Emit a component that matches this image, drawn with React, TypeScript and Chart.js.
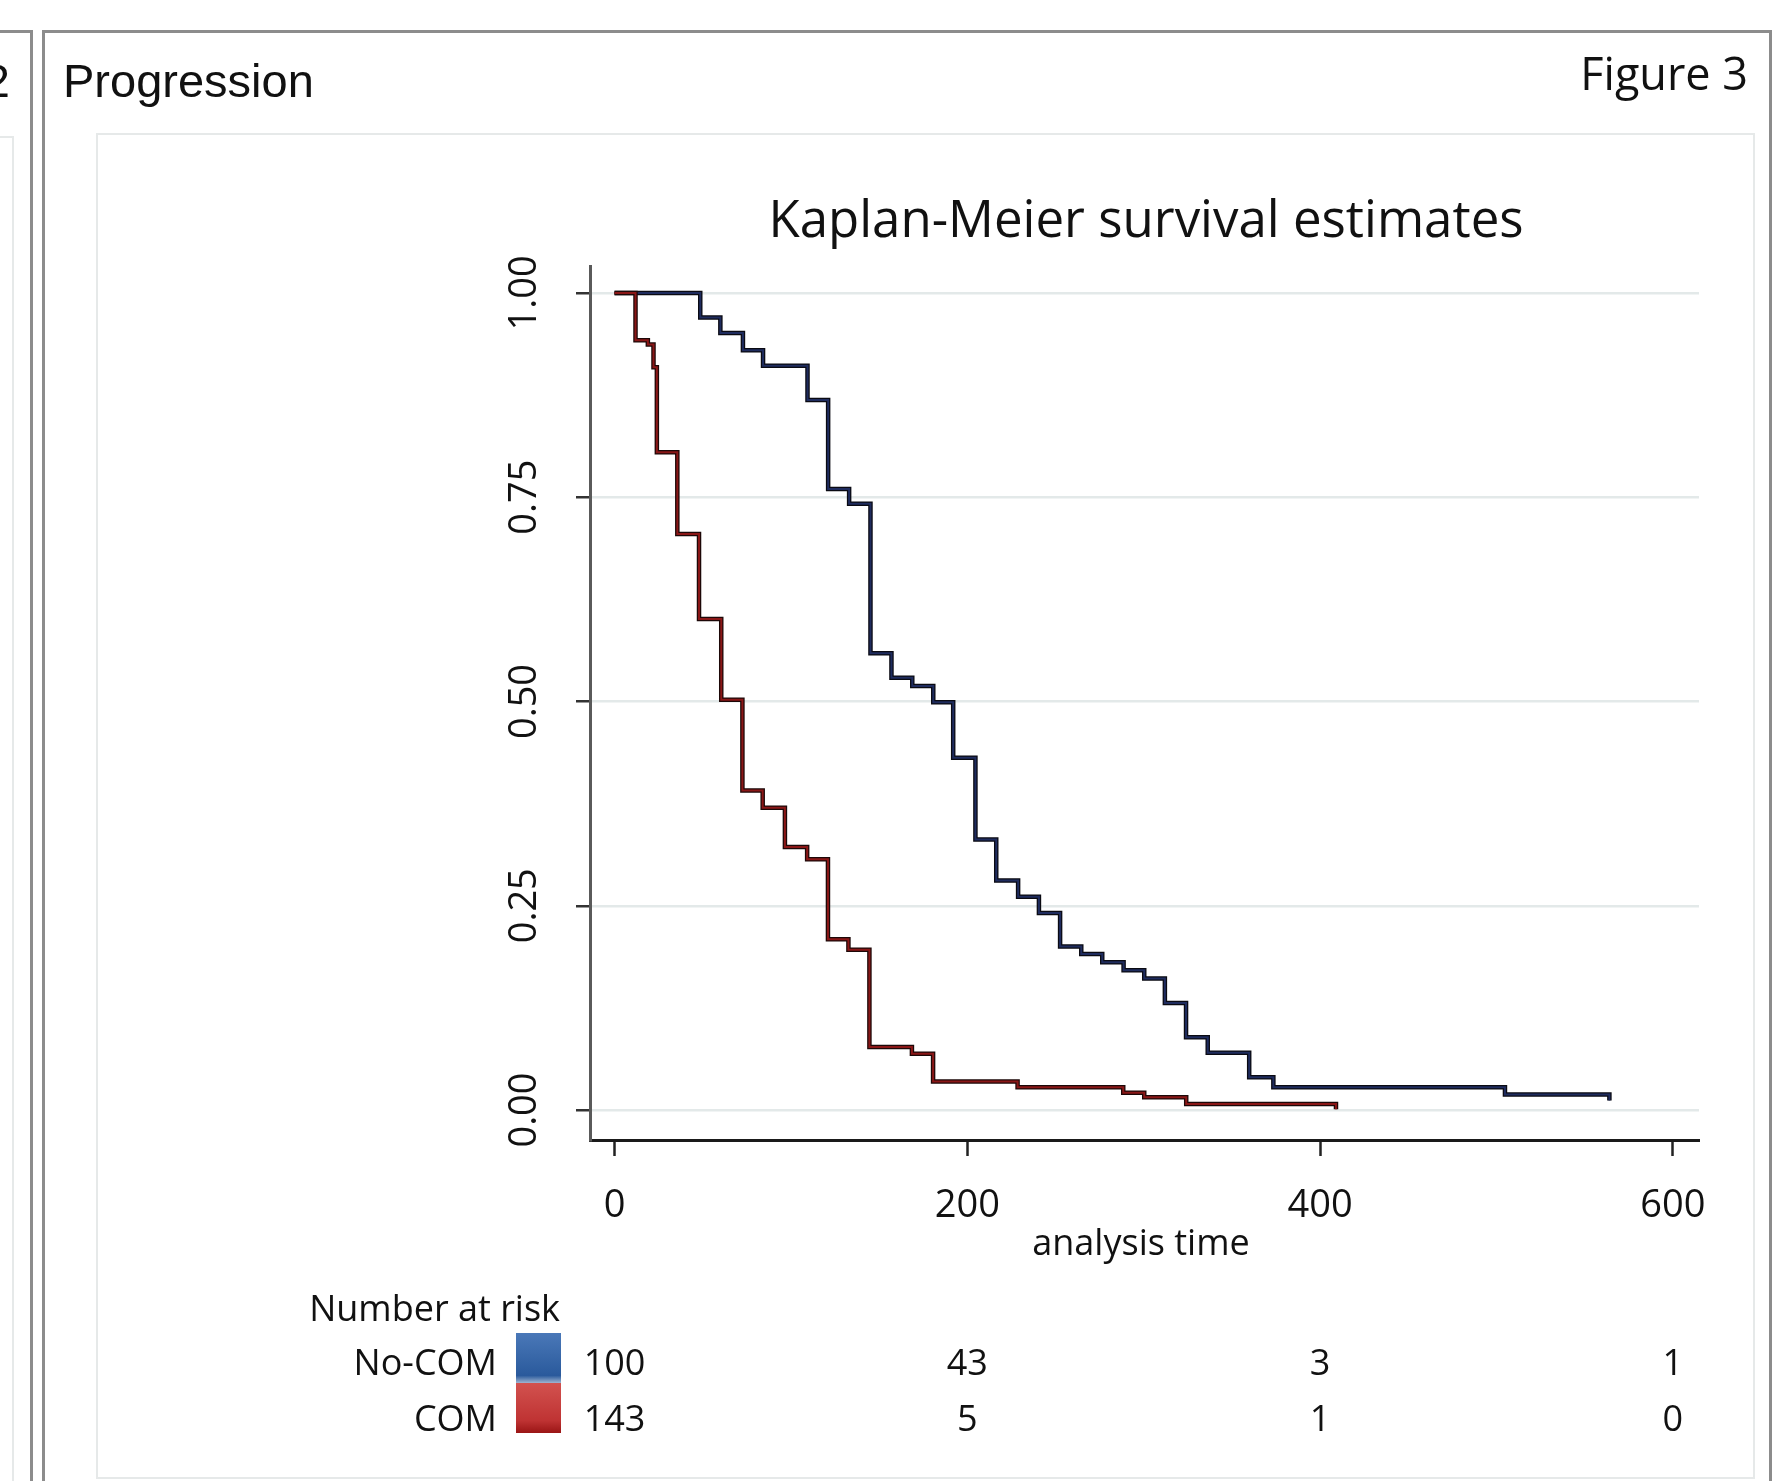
import React, { useEffect, useRef } from "react";
import { Chart, registerables } from "chart.js";

Chart.register(...registerables);

// ---- Data ----
const noComTimes = [0, 48.6, 60, 72.8, 84.2, 109.4, 121.1, 133, 145.1, 157, 168.8, 180.7, 192, 204.6, 216.4, 228.8, 240.6, 252.6, 264.6, 276.5, 288.6, 300.3, 312, 324, 336.3, 359.8, 373.5, 504.8, 564, 564];
const noComSurv = [1, 0.97, 0.951, 0.93, 0.911, 0.869, 0.76, 0.742, 0.559, 0.529, 0.519, 0.499, 0.431, 0.331, 0.281, 0.261, 0.241, 0.2, 0.191, 0.181, 0.171, 0.161, 0.131, 0.089, 0.07, 0.04, 0.028, 0.019, 0.019, 0.0115];

const comTimes = [0, 11.9, 18.9, 22.1, 24, 35.6, 47.9, 60.5, 72.5, 84, 96.6, 109.2, 121, 132.6, 144.5, 168.6, 180.6, 228.5, 288.4, 300.3, 324.1, 409, 409];
const comSurv = [1, 0.942, 0.937, 0.909, 0.805, 0.705, 0.601, 0.502, 0.391, 0.37, 0.322, 0.307, 0.209, 0.196, 0.077, 0.069, 0.035, 0.028, 0.021, 0.0156, 0.0074, 0.0074, 0.001];

const xTickValues = [0, 200, 400, 600];
const yTickValues = [0, 0.25, 0.5, 0.75, 1];
const yTickLabels = ["0.00", "0.25", "0.50", "0.75", "1.00"];

const riskGroups = ["No-COM", "COM"];
const noComAtRisk = [100, 43, 3, 1];
const comAtRisk = [143, 5, 1, 0];

const chartTitle = "Kaplan-Meier survival estimates";
const xAxisTitle = "analysis time";
const panelTitle = "Progression";
const figureLabel = "Figure 3";

const OPEN = '"Open Sans", "Noto Sans", sans-serif';

const toPoints = (ts: number[], ss: number[]) => ts.map((t, i) => ({ x: t, y: ss[i] }));

const framePlugin = {
  id: "frame",
  beforeDraw(chart: any) {
    const ctx = chart.ctx as CanvasRenderingContext2D;
    ctx.save();
    ctx.fillStyle = "#ffffff";
    ctx.fillRect(0, 0, chart.width, chart.height);
    // panel borders
    ctx.strokeStyle = "#8c8c8c";
    ctx.lineWidth = 3;
    ctx.beginPath();
    ctx.moveTo(0, 31.5);
    ctx.lineTo(31.5, 31.5);
    ctx.lineTo(31.5, 1481);
    ctx.stroke();
    ctx.beginPath();
    ctx.moveTo(43.5, 1481);
    ctx.lineTo(43.5, 31.5);
    ctx.lineTo(1770.5, 31.5);
    ctx.lineTo(1770.5, 1481);
    ctx.stroke();
    // light inner boxes
    ctx.strokeStyle = "#e6e9e9";
    ctx.lineWidth = 2;
    ctx.beginPath();
    ctx.moveTo(0, 137);
    ctx.lineTo(13, 137);
    ctx.lineTo(13, 1481);
    ctx.stroke();
    ctx.strokeRect(97, 134, 1657, 1344);
    ctx.restore();
  },
  afterDraw(chart: any) {
    const ctx = chart.ctx as CanvasRenderingContext2D;
    const xs = chart.scales.x;
    const ys = chart.scales.y;
    ctx.save();
    ctx.fillStyle = "#111111";
    ctx.textBaseline = "alphabetic";

    // panel header
    ctx.font = '47px "Liberation Sans", Arial, sans-serif';
    ctx.textAlign = "left";
    ctx.fillText(panelTitle, 63, 97);
    ctx.textAlign = "right";
    ctx.fillText("2", 10, 97);
    ctx.font = `45px ${OPEN}`;
    ctx.fillText(figureLabel, 1748, 90);

    // chart title
    ctx.font = `51px ${OPEN}`;
    ctx.textAlign = "center";
    ctx.fillText(chartTitle, 1146, 237);

    // y tick labels (rotated)
    ctx.font = `38px ${OPEN}`;
    yTickValues.forEach((v, i) => {
      const py = ys.getPixelForValue(v);
      ctx.save();
      ctx.translate(536, py);
      ctx.rotate(-Math.PI / 2);
      ctx.textAlign = "center";
      ctx.fillText(yTickLabels[i], 0, 0);
      ctx.restore();
    });

    // x tick labels
    ctx.font = `38px ${OPEN}`;
    ctx.textAlign = "center";
    xTickValues.forEach((v) => {
      ctx.fillText(String(v), xs.getPixelForValue(v), 1217);
    });

    // x axis title
    ctx.font = `36px ${OPEN}`;
    ctx.fillText(xAxisTitle, 1141, 1255);

    // number at risk table
    ctx.font = `36px ${OPEN}`;
    ctx.textAlign = "right";
    ctx.fillText("Number at risk", 560, 1321);
    const rowBase = [1375, 1431];
    riskGroups.forEach((g, i) => ctx.fillText(g, 497, rowBase[i]));

    // swatches
    const gb = ctx.createLinearGradient(0, 1333, 0, 1383);
    gb.addColorStop(0, "#4a78b8");
    gb.addColorStop(0.85, "#2a5a9c");
    gb.addColorStop(1, "#9fb4d0");
    ctx.fillStyle = gb;
    ctx.fillRect(516, 1333, 45, 50);
    const gr = ctx.createLinearGradient(0, 1383, 0, 1433);
    gr.addColorStop(0, "#d2524f");
    gr.addColorStop(0.75, "#bf3333");
    gr.addColorStop(1, "#9a1515");
    ctx.fillStyle = gr;
    ctx.fillRect(516, 1383, 45, 50);

    ctx.fillStyle = "#111111";
    ctx.textAlign = "center";
    xTickValues.forEach((v, i) => {
      const px = xs.getPixelForValue(v);
      ctx.fillText(String(noComAtRisk[i]), px, rowBase[0]);
      ctx.fillText(String(comAtRisk[i]), px, rowBase[1]);
    });
    ctx.restore();
  },
};

export default function App() {
  const ref = useRef<HTMLCanvasElement | null>(null);
  useEffect(() => {
    if (!ref.current) return;
    const common = { stepped: "before" as const, pointRadius: 0, fill: false, tension: 0 };
    const chart = new Chart(ref.current, {
      type: "line",
      data: {
        datasets: [
          { ...common, label: "COM", data: toPoints(comTimes, comSurv), borderColor: "#8a1717", borderWidth: 2 },
          { ...common, label: "COM edge", data: toPoints(comTimes, comSurv), borderColor: "#1c0808", borderWidth: 4.5 },
          { ...common, label: "No-COM", data: toPoints(noComTimes, noComSurv), borderColor: "#1f2c5e", borderWidth: 2 },
          { ...common, label: "No-COM edge", data: toPoints(noComTimes, noComSurv), borderColor: "#0a0a12", borderWidth: 4.5 },
        ],
      },
      options: {
        animation: false,
        responsive: false,
        maintainAspectRatio: false,
        layout: { padding: { left: 0, top: 266, right: 82, bottom: 241 } },
        plugins: { legend: { display: false }, tooltip: { enabled: false }, title: { display: false } },
        scales: {
          x: {
            type: "linear",
            min: -13.9,
            max: 614.8,
            afterBuildTicks: (s: any) => {
              s.ticks = xTickValues.map((v) => ({ value: v }));
            },
            afterFit: (s: any) => {
              s.height = 100;
            },
            ticks: { display: false },
            grid: { drawOnChartArea: false, drawTicks: true, tickLength: 16, tickColor: "#222222", tickWidth: 2.5 },
            border: { display: true, color: "#1a1a1a", width: 3 },
          },
          y: {
            type: "linear",
            min: -0.0367,
            max: 1.033,
            afterBuildTicks: (s: any) => {
              s.ticks = yTickValues.map((v) => ({ value: v }));
            },
            afterFit: (s: any) => {
              s.width = 590;
            },
            ticks: { display: false },
            grid: { color: "#e3e9e9", lineWidth: 2.5, drawTicks: true, tickLength: 14, tickColor: "#333333", tickWidth: 2.5 },
            border: { display: true, color: "#5a5a5a", width: 3 },
          },
        },
      },
      plugins: [framePlugin],
    } as any);
    return () => chart.destroy();
  }, []);
  return (
    <div style={{ position: "fixed", left: 0, top: 0, width: 1781, height: 1481, background: "#fff" }}>
      <canvas ref={ref} width={1781} height={1481} style={{ width: 1781, height: 1481, display: "block" }} />
    </div>
  );
}
